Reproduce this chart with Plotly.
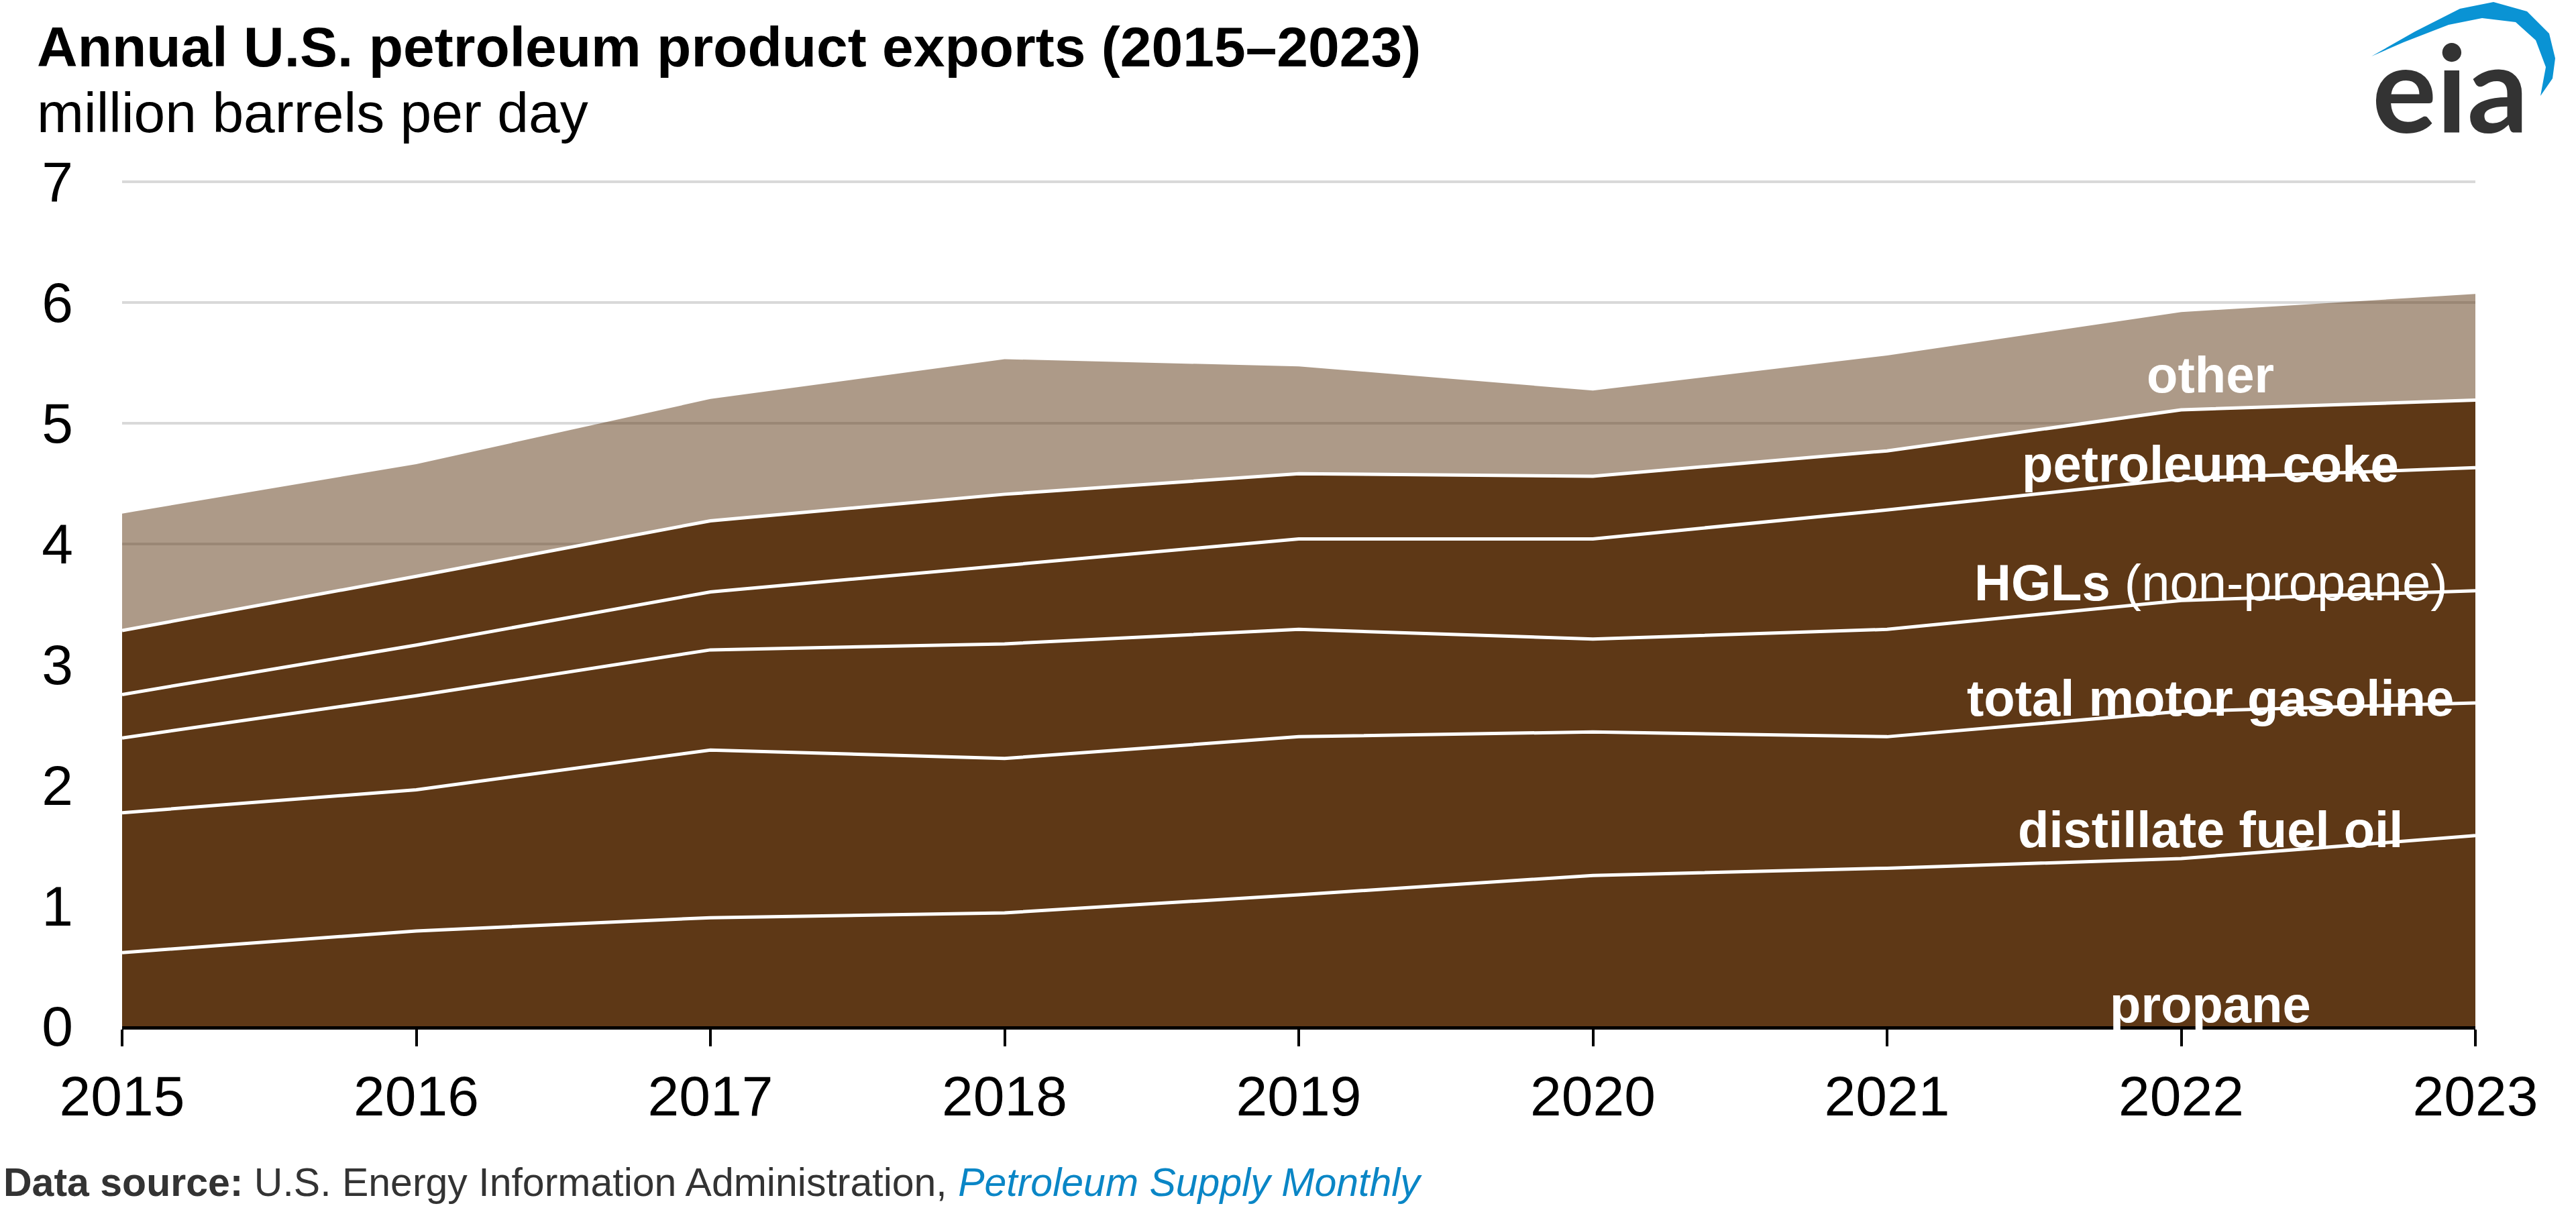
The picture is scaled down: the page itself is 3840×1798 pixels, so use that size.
import plotly.graph_objects as go

# ---------------- data (million barrels per day) ----------------
years = [2015, 2016, 2017, 2018, 2019, 2020, 2021, 2022, 2023]
year_labels = ["2015", "2016", "2017", "2018", "2019", "2020", "2021", "2022", "2023"]

propane = [0.61, 0.79, 0.90, 0.94, 1.09, 1.25, 1.31, 1.39, 1.58]
distillate = [1.16, 1.17, 1.39, 1.28, 1.31, 1.19, 1.09, 1.22, 1.10]
gasoline = [0.62, 0.78, 0.83, 0.95, 0.89, 0.77, 0.89, 0.92, 0.93]
hgl_nonpropane = [0.36, 0.42, 0.48, 0.65, 0.75, 0.83, 0.99, 1.01, 1.02]
pet_coke = [0.53, 0.57, 0.59, 0.59, 0.54, 0.52, 0.49, 0.57, 0.56]
other = [0.97, 0.93, 1.01, 1.12, 0.89, 0.71, 0.79, 0.81, 0.88]

series_names = ["propane", "distillate fuel oil", "total motor gasoline",
                "HGLs (non-propane)", "petroleum coke", "other"]
y_ticks = [0, 1, 2, 3, 4, 5, 6, 7]

# in-chart label text and placement (data coordinates)
label_text = ["<b>propane</b>", "<b>distillate fuel oil</b>", "<b>total motor gasoline</b>",
              "<b>HGLs</b> (non-propane)", "<b>petroleum coke</b>", "<b>other</b>"]
label_x = [2022.1, 2022.1, 2022.1, 2022.1, 2022.1, 2022.1]
label_y = [0.18, 1.63, 2.72, 3.68, 4.66, 5.40]

# ---------------- layout constants ----------------
W, H = 3840, 1798
ML, MR, MT, MB = 182, 150, 270, 268
PW, PH = W - ML - MR, H - MT - MB

BROWN = "#5E3816"
TAN = "rgba(94,56,22,0.51)"
FONT = "Liberation Sans, Arial, sans-serif"


def px_x(px):
    return (px - ML) / PW


def px_y(py):
    return (H - MB - py) / PH


fig = go.Figure()
all_series = [propane, distillate, gasoline, hgl_nonpropane, pet_coke, other]
for name, vals in zip(series_names, all_series):
    is_other = (name == "other")
    fig.add_trace(go.Scatter(
        x=years, y=vals, name=name, mode="lines", stackgroup="one",
        fillcolor=TAN if is_other else BROWN,
        line=dict(color="white", width=0 if is_other else 5),
        hoverinfo="skip", showlegend=False,
    ))

annotations = []
for t, lx, ly in zip(label_text, label_x, label_y):
    annotations.append(dict(x=lx, y=ly, xref="x", yref="y", text=t, showarrow=False,
                            xanchor="center", yanchor="middle",
                            font=dict(family=FONT, size=76, color="white")))

# title, subtitle, source
annotations.append(dict(x=px_x(53), y=px_y(70), xref="paper", yref="paper", xanchor="left",
                        yanchor="middle", showarrow=False,
                        text="<b>Annual U.S. petroleum product exports (2015–2023)</b>",
                        font=dict(family=FONT, size=84, color="black")))
annotations.append(dict(x=px_x(53), y=px_y(168), xref="paper", yref="paper", xanchor="left",
                        yanchor="middle", showarrow=False,
                        text="million barrels per day",
                        font=dict(family=FONT, size=84, color="black")))
annotations.append(dict(x=px_x(3), y=px_y(1763), xref="paper", yref="paper", xanchor="left",
                        yanchor="middle", showarrow=False,
                        text="<b>Data source:</b> U.S. Energy Information Administration, "
                             "<i><span style='color:#0a86c6'>Petroleum Supply Monthly</span></i>",
                        font=dict(family=FONT, size=59, color="#333333")))
# eia logo text
annotations.append(dict(x=px_x(3652), y=px_y(128), xref="paper", yref="paper", xanchor="center",
                        yanchor="middle", showarrow=False, text="<b>eia</b>",
                        font=dict(family="Lato, sans-serif", size=180, color="#333333")))

# eia swoosh (pixel-sized path relative to plot top-right corner)
sw = [(-155, 186), (-90, 223), (-23, 257), (27, 267), (77, 253), (110, 220), (119, 183),
      (115, 153), (97, 127), (105, 170), (90, 210), (60, 237), (10, 243), (-40, 233),
      (-107, 207)]
path = "M " + " L ".join(f"{a},{b}" for a, b in sw) + " Z"

fig.update_layout(
    width=W, height=H,
    margin=dict(l=ML, r=MR, t=MT, b=MB, pad=0),
    paper_bgcolor="white", plot_bgcolor="white",
    font=dict(family=FONT, size=84, color="black"),
    showlegend=False,
    annotations=annotations,
    shapes=[dict(type="path", xref="paper", yref="paper", xsizemode="pixel", ysizemode="pixel",
                 xanchor=1.0, yanchor=1.0, path=path, fillcolor="#0a93d4",
                 line=dict(width=0), layer="above")],
    xaxis=dict(range=[2015, 2023], tickmode="array", tickvals=years, ticktext=year_labels,
               showgrid=False, zeroline=False, showline=True, linecolor="black", linewidth=5,
               ticks="outside", ticklen=25, tickwidth=4, tickcolor="black",
               tickfont=dict(family=FONT, size=84, color="black"), ticklabelstandoff=2,
               fixedrange=True),
    yaxis=dict(range=[0, 7.006], tickmode="array", tickvals=y_ticks,
               ticktext=[str(v) for v in y_ticks],
               showgrid=True, gridcolor="#d9d9d9", gridwidth=4, zeroline=False, showline=False,
               ticks="", tickfont=dict(family=FONT, size=84, color="black"),
               ticklabelstandoff=72, fixedrange=True),
)

fig.write_html("out.html", config={"displayModeBar": False},
               post_script="document.body.style.margin='0';")
